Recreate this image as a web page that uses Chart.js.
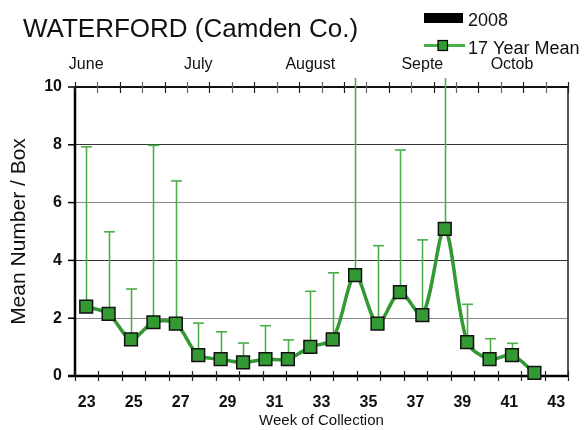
<!DOCTYPE html>
<html>
<head>
<meta charset="utf-8">
<script src="https://cdn.jsdelivr.net/npm/chart.js@4/dist/chart.umd.min.js"></script>
<style>
  html, body { margin: 0; padding: 0; background: #fff; }
  #wrap { width: 586px; height: 430px; position: relative; }
</style>
</head>
<body>
<div id="wrap"><canvas id="c" width="586" height="430"></canvas></div>
<script>
// ---- data ----
const weeks = ['23','24','25','26','27','28','29','30','31','32','33','34','35','36','37','38','39','40','41','42','43'];
const monthLabels = ['June','','','','','July','','','','','August','','','','','Septe','','','','Octob','',''];
const yTicks = [0, 2, 4, 6, 8, 10];
const mean17 = [2.40, 2.15, 1.27, 1.86, 1.81, 0.72, 0.58, 0.47, 0.58, 0.58, 1.01, 1.27, 3.49, 1.81, 2.90, 2.11, 5.09, 1.17, 0.58, 0.72, 0.11];
const meanUpper = [7.93, 4.99, 3.01, 7.98, 6.75, 1.83, 1.53, 1.14, 1.74, 1.25, 2.93, 3.57, 12.0, 4.51, 7.82, 4.71, 12.0, 2.48, 1.29, 1.13, null];
const y2008 = [0,0,0,0,0,0,0,0,0,0,0,0,0,0,0,0,0,0,0,0,0];
const titleText = 'WATERFORD (Camden Co.)';
const seriesNames = ['2008', '17 Year Mean'];

const FONT = "'Liberation Sans', Arial, sans-serif";
const GREEN = '#339933';
const ERR_GREEN = '#4aae4a';

const decorPlugin = {
  id: 'decor',
  beforeDatasetsDraw(chart) {
    const ctx = chart.ctx;
    const a = chart.chartArea;
    const xs = chart.scales.x, x2 = chart.scales.x2, ys = chart.scales.y;
    ctx.save();
    // right border
    ctx.strokeStyle = '#555';
    ctx.lineWidth = 2;
    ctx.beginPath(); ctx.moveTo(a.right, a.top); ctx.lineTo(a.right, a.bottom); ctx.stroke();
    // top border
    ctx.strokeStyle = '#111';
    ctx.lineWidth = 2;
    ctx.beginPath(); ctx.moveTo(a.left, a.top); ctx.lineTo(a.right, a.top); ctx.stroke();
    // bottom axis
    ctx.lineWidth = 2.5;
    ctx.strokeStyle = '#000';
    ctx.beginPath(); ctx.moveTo(a.left - 7, a.bottom); ctx.lineTo(a.right, a.bottom); ctx.stroke();
    // left axis
    ctx.beginPath(); ctx.moveTo(a.left, a.top); ctx.lineTo(a.left, a.bottom); ctx.stroke();
    // left ticks
    ctx.lineWidth = 1.5;
    yTicks.forEach(v => {
      const y = ys.getPixelForValue(v);
      ctx.beginPath(); ctx.moveTo(a.left - 7, y); ctx.lineTo(a.left, y); ctx.stroke();
    });
    // bottom ticks (band edges)
    const bw = (a.right - a.left) / weeks.length;
    ctx.strokeStyle = '#222';
    ctx.lineWidth = 1.2;
    for (let i = 0; i <= weeks.length; i++) {
      const x = Math.round(xs.getPixelForValue(Math.min(i, weeks.length - 1)) + (i < weeks.length ? -bw / 2 : bw / 2)) + 0.5;
      ctx.beginPath(); ctx.moveTo(x, a.bottom - 5); ctx.lineTo(x, a.bottom + 5); ctx.stroke();
    }
    // top ticks (band edges)
    const bw2 = (a.right - a.left) / monthLabels.length;
    for (let i = 0; i <= monthLabels.length; i++) {
      const x = Math.round(x2.getPixelForValue(Math.min(i, monthLabels.length - 1)) + (i < monthLabels.length ? -bw2 / 2 : bw2 / 2)) + 0.5;
      ctx.strokeStyle = i % 2 ? '#666' : '#222';
      ctx.beginPath(); ctx.moveTo(x, a.top - 5); ctx.lineTo(x, a.top + 6); ctx.stroke();
    }
    // error bars
    ctx.beginPath();
    ctx.rect(a.left, a.top - 9, a.right - a.left, a.bottom - a.top + 9);
    ctx.clip();
    ctx.strokeStyle = ERR_GREEN;
    ctx.lineWidth = 1.6;
    meanUpper.forEach((u, i) => {
      if (u == null) return;
      const x = Math.round(x2.getPixelForValue(i)) + 0.5;
      const y0 = ys.getPixelForValue(mean17[i]);
      const y1 = ys.getPixelForValue(u);
      ctx.beginPath(); ctx.moveTo(x, y0); ctx.lineTo(x, y1); ctx.stroke();
      ctx.beginPath(); ctx.moveTo(x - 5.5, y1); ctx.lineTo(x + 5.5, y1); ctx.stroke();
    });
    ctx.restore();
  },
  afterDraw(chart) {
    const ctx = chart.ctx;
    ctx.save();
    // title
    ctx.fillStyle = '#111';
    ctx.font = '26px ' + FONT;
    ctx.textBaseline = 'alphabetic';
    ctx.textAlign = 'left';
    ctx.fillText(titleText, 23, 37);
    // legend
    ctx.fillStyle = '#000';
    ctx.fillRect(424, 13, 39, 10);
    ctx.font = '18px ' + FONT;
    ctx.fillStyle = '#111';
    ctx.fillText(seriesNames[0], 468, 26);
    ctx.strokeStyle = '#4aae4a';
    ctx.lineWidth = 3;
    ctx.beginPath(); ctx.moveTo(424, 45.5); ctx.lineTo(465, 45.5); ctx.stroke();
    ctx.fillStyle = GREEN;
    ctx.fillRect(438, 40.5, 9.5, 10);
    ctx.strokeStyle = '#000';
    ctx.lineWidth = 1.2;
    ctx.strokeRect(438, 40.5, 9.5, 10);
    ctx.fillStyle = '#111';
    ctx.fillText(seriesNames[1], 468, 54);
    ctx.restore();
  }
};

new Chart(document.getElementById('c'), {
  data: {
    datasets: [
      {
        type: 'bar',
        label: seriesNames[0],
        data: y2008,
        xAxisID: 'x2',
        yAxisID: 'y',
        backgroundColor: '#000',
        borderWidth: 0,
        order: 2
      },
      {
        type: 'line',
        label: seriesNames[1],
        data: mean17,
        xAxisID: 'x2',
        yAxisID: 'y',
        borderColor: GREEN,
        borderWidth: 3.5,
        tension: 0.3,
        pointStyle: 'rect',
        pointRadius: 9,
        pointBackgroundColor: GREEN,
        pointBorderColor: '#111',
        pointBorderWidth: 1.5,
        clip: false,
        order: 1
      }
    ]
  },
  options: {
    responsive: false,
    animation: false,
    devicePixelRatio: 1,
    layout: { padding: { left: 0, right: 18, top: 0, bottom: 0 } },
    plugins: {
      legend: { display: false },
      title: { display: false },
      tooltip: { enabled: false }
    },
    scales: {
      x: {
        type: 'category',
        position: 'bottom',
        labels: weeks,
        offset: true,
        display: true,
        grid: { display: false, drawTicks: false },
        border: { display: false },
        ticks: {
          autoSkip: false,
          maxRotation: 0,
          padding: 17,
          color: '#111',
          font: { family: FONT, size: 16, weight: 'bold' },
          callback: function(v, i) { return i % 2 === 0 ? weeks[i] : ''; }
        },
        title: {
          display: true,
          text: 'Week of Collection',
          color: '#111',
          font: { family: FONT, size: 15 },
          padding: { top: 0, bottom: 0 }
        },
        afterFit(s) { s.height = 54; }
      },
      x2: {
        type: 'category',
        position: 'top',
        labels: monthLabels,
        offset: true,
        display: true,
        grid: { display: false, drawTicks: false },
        border: { display: false },
        ticks: {
          autoSkip: false,
          maxRotation: 0,
          padding: 13,
          color: '#111',
          font: { family: FONT, size: 16 }
        },
        afterFit(s) { s.height = 87; }
      },
      y: {
        type: 'linear',
        min: 0,
        max: 10,
        afterBuildTicks(s) { s.ticks = yTicks.map(v => ({ value: v })); },
        grid: {
          drawTicks: false,
          lineWidth: 1,
          color: (c) => {
            const v = c.tick && c.tick.value;
            if (v === 4 || v === 8) return '#333';
            if (v === 2 || v === 6) return '#888';
            return 'rgba(0,0,0,0)';
          }
        },
        border: { display: false },
        ticks: {
          padding: 13,
          color: '#111',
          font: { family: FONT, size: 16, weight: 'bold' }
        },
        title: {
          display: true,
          text: 'Mean Number / Box',
          color: '#111',
          font: { family: FONT, size: 21 },
          padding: { top: 7, bottom: 0 }
        },
        afterFit(s) { s.width = 75; }
      }
    }
  },
  plugins: [decorPlugin]
});
</script>
</body>
</html>
